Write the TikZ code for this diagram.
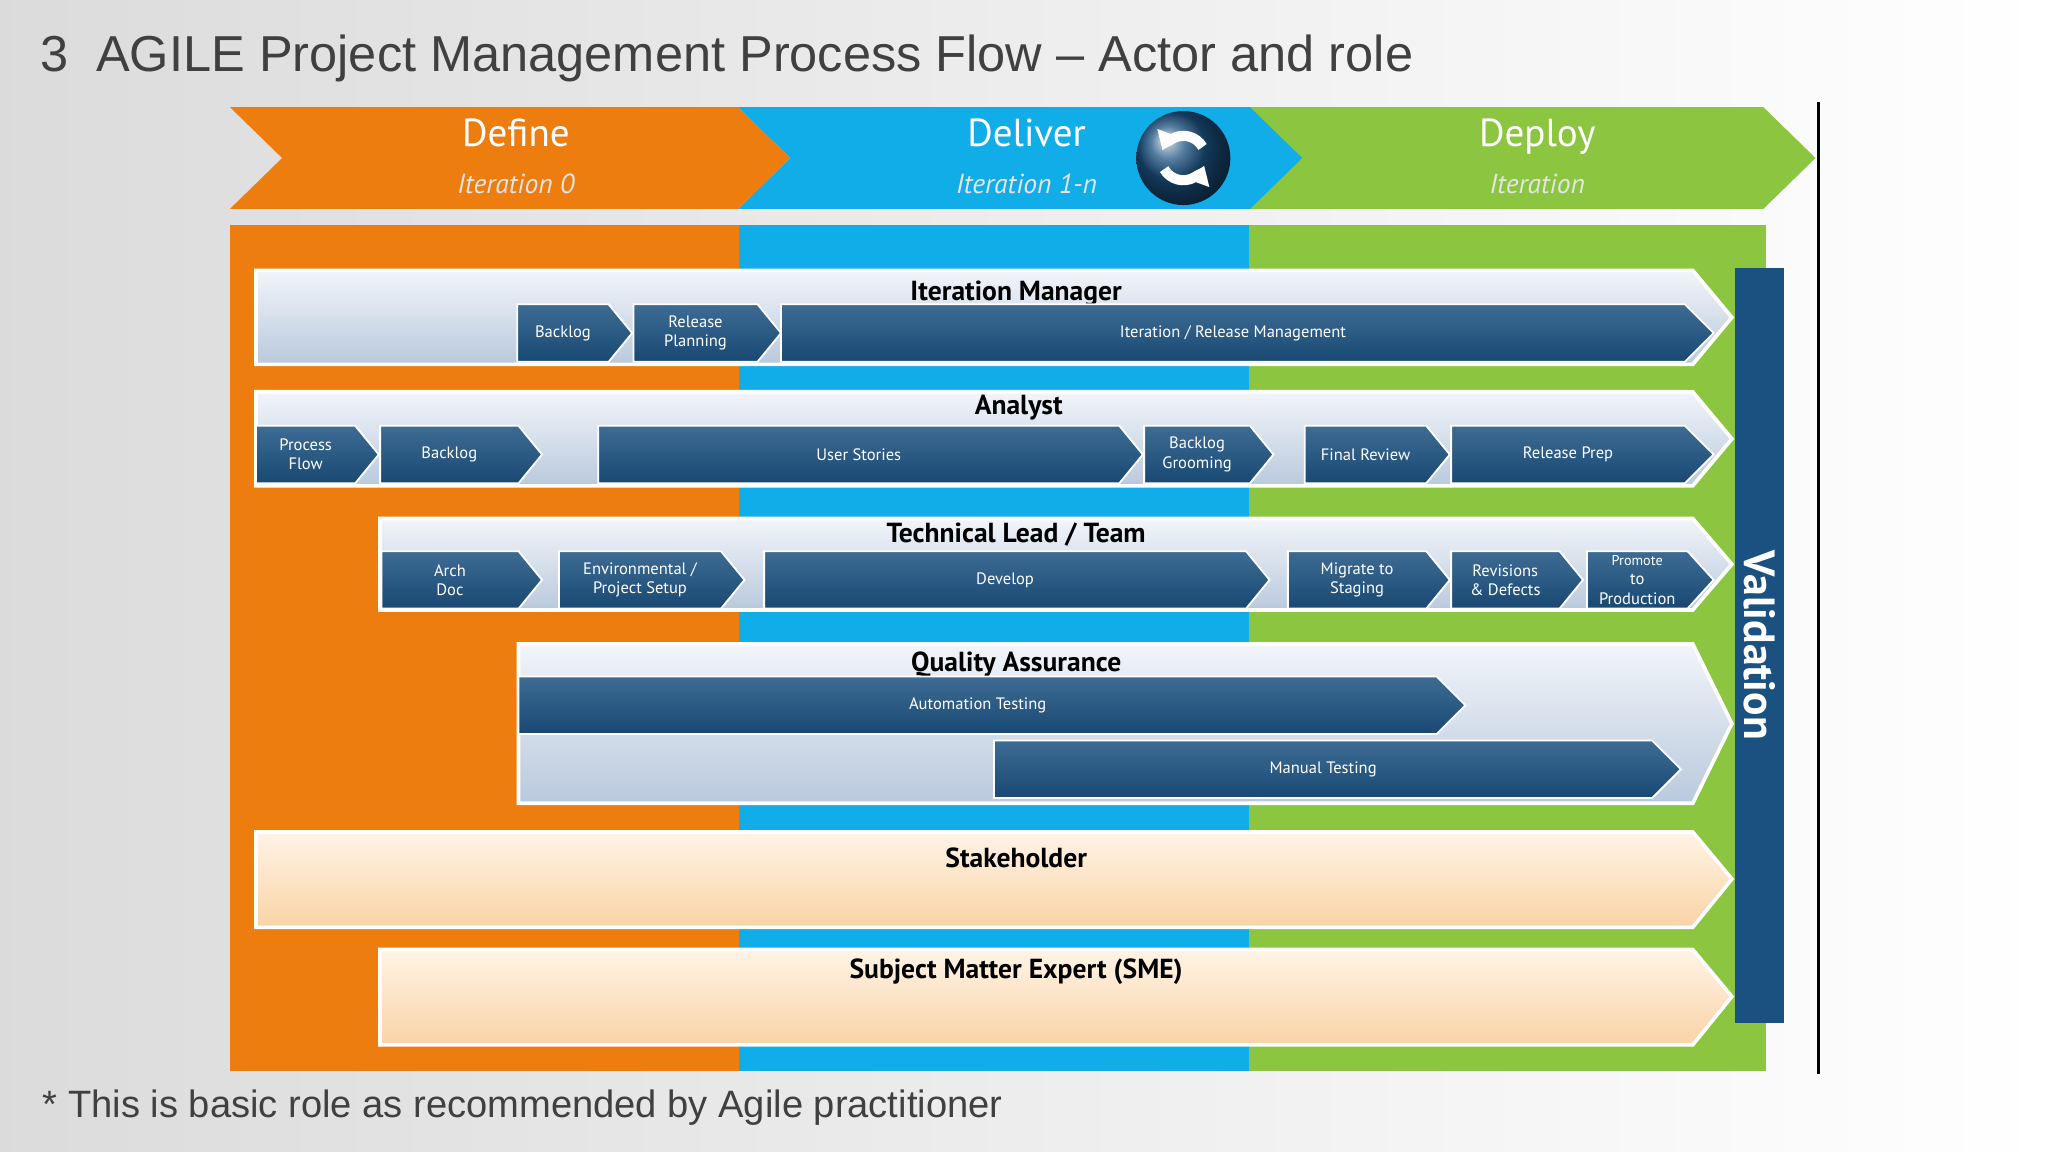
\documentclass[tikz,border=0pt]{standalone}
\usepackage{fontspec}
\setmainfont{Liberation Sans}
\newfontfamily\boxf{PT Sans}
\usetikzlibrary{arrows.meta}
\definecolor{ora}{HTML}{EE7D0F}
\definecolor{blu}{HTML}{10ADE8}
\definecolor{grn}{HTML}{8CC540}
\definecolor{dkb}{HTML}{1B5180}
\definecolor{rowtop}{HTML}{F2F5FA}
\definecolor{rowbot}{HTML}{B9C9DD}
\definecolor{pchtop}{HTML}{FFF4E6}
\definecolor{pchbot}{HTML}{F9D3A6}
\tikzset{
 rowbox/.style={top color=rowtop,bottom color=rowbot,draw=white,line width=0.8pt},
 peachbox/.style={top color=pchtop,bottom color=pchbot,draw=white,line width=0.8pt},
 inner/.style={top color=dkb!85!white,bottom color=dkb!90!black,draw=white,line width=0.4pt},
 ttl/.style={font=\boxf\bfseries\fontsize{6}{7}\selectfont,text=black},
 itxt/.style={font=\boxf\fontsize{3.6}{4.2}\selectfont,text=white,align=center},
 hdr/.style={font=\boxf\fontsize{8.5}{10}\selectfont,text=white,text height=6pt,text depth=1pt},
 sub/.style={font=\boxf\itshape\fontsize{6}{7}\selectfont,text=white!90!black},
}
% name, x1, y1, x2, y2, tip, style, text
\newcommand\chv[8]{%
 \path[#7] (#2,#3) -- ({#4-#6},#3) -- (#4,{(#3+#5)/2}) -- ({#4-#6},#5) -- (#2,#5) -- cycle;
 \node[itxt] (#1) at ({(#2+#4-#6)/2},{(#3+#5)/2}) {#8};}
\begin{document}
\begin{tikzpicture}[x=0.01cm,y=-0.01cm]
\useasboundingbox (0,0) rectangle (1568,882);
\shade[left color=gray!28,right color=white] (0,0) rectangle (1568,882);
\node[anchor=west,inner sep=0pt,font=\fontsize{11}{13}\selectfont,text=black!75] (title) at (30,45) {3\ \ AGILE Project Management Process Flow -- Actor and role};
\node[anchor=west,inner sep=0pt,font=\fontsize{8.3}{10}\selectfont,text=black!75] (foot) at (32,848) {* This is basic role as recommended by Agile practitioner};
% header chevrons
\fill[grn] (955,82) -- (1350,82) -- (1390,121) -- (1350,160) -- (955,160) -- (995,121) -- cycle;
\fill[blu] (565,82) -- (957,82) -- (997,121) -- (957,160) -- (565,160) -- (605,121) -- cycle;
\fill[ora] (176,82) -- (565,82) -- (605,121) -- (565,160) -- (176,160) -- (216,121) -- cycle;
\node[hdr] (def) at (395,103) {Define};
\node[sub] (defi) at (395,141) {Iteration 0};
\node[hdr] (del) at (786,103) {Deliver};
\node[sub] (deli) at (786,141) {Iteration 1-n};
\node[hdr] (dep) at (1177,103) {Deploy};
\node[sub] (depi) at (1177,141) {Iteration};
\shade[ball color=dkb] (906,121) circle (36);
\draw[white,line width=2.2pt,-{Triangle[length=4pt,width=5pt]}] (906,121) ++(150:17) arc (150:20:17);
\draw[white,line width=2.2pt,-{Triangle[length=4pt,width=5pt]}] (906,121) ++(330:17) arc (330:200:17);
\draw[black,line width=0.6pt] (1392,78) -- (1392,822);
% columns
\fill[ora] (176,172) rectangle (566,820);
\fill[blu] (566,172) rectangle (956,820);
\fill[grn] (956,172) rectangle (1352,820);
% validation
\fill[dkb] (1328,205) rectangle (1366,783);
\node[rotate=-90,font=\boxf\bfseries\fontsize{9.5}{11}\selectfont,text=white] (val) at (1347,494) {Validation};
% row 1
\path[rowbox] (196,207) -- (1296,207) -- (1326,243) -- (1296,279) -- (196,279) -- cycle;
\node[ttl] (im) at (778,225) {Iteration Manager};
\chv{b1}{396}{233}{484}{277}{18}{inner}{Backlog}
\chv{rp}{485}{233}{598}{277}{18}{inner}{Release\\Planning}
\chv{irm}{598}{233}{1312}{277}{22}{inner}{Iteration / Release Management}
% row 2
\path[rowbox] (196,300) -- (1296,300) -- (1326,336) -- (1296,372) -- (196,372) -- cycle;
\node[ttl] (an) at (780,312) {Analyst};
\chv{pf}{196}{326}{290}{370}{18}{inner}{Process\\Flow}
\chv{b2}{291}{326}{415}{370}{18}{inner}{Backlog}
\chv{us}{458}{326}{875}{370}{18}{inner}{User Stories}
\chv{bg}{876}{326}{975}{370}{18}{inner}{Backlog\\Grooming}
\chv{fr}{999}{326}{1110}{370}{18}{inner}{Final Review}
\chv{rpp}{1111}{326}{1312}{370}{22}{inner}{Release Prep}
% row 3
\path[rowbox] (291,397) -- (1296,397) -- (1326,432) -- (1296,467) -- (291,467) -- cycle;
\node[ttl] (tl) at (778,409) {Technical Lead / Team};
\chv{ad}{292}{422}{415}{466}{18}{inner}{Arch\\Doc}
\chv{eps}{428}{422}{570}{466}{18}{inner}{Environmental /\\Project Setup}
\chv{dv}{585}{422}{972}{466}{18}{inner}{Develop}
\chv{ms}{986}{422}{1110}{466}{18}{inner}{Migrate to\\Staging}
\chv{rd}{1111}{422}{1212}{466}{18}{inner}{Revisions\\\& Defects}
\chv{pp}{1215}{422}{1312}{466}{20}{inner}{\fontsize{3.1}{3.7}\selectfont Promote\\to\\Production}
% row 4
\path[rowbox] (397,493) -- (1296,493) -- (1326,554) -- (1296,615) -- (397,615) -- cycle;
\node[ttl] (qa) at (778,509) {Quality Assurance};
\chv{at}{397}{518}{1122}{562}{22}{inner}{Automation Testing}
\chv{mt}{761}{567}{1287}{611}{22}{inner}{Manual Testing}
% row 5
\path[peachbox] (196,637) -- (1296,637) -- (1326,673) -- (1296,710) -- (196,710) -- cycle;
\node[ttl] (sh) at (778,657) {Stakeholder};
% row 6
\path[peachbox] (291,727) -- (1296,727) -- (1326,763) -- (1296,800) -- (291,800) -- cycle;
\node[ttl] (sme) at (778,744) {Subject Matter Expert (SME)};
\end{tikzpicture}
\end{document}
